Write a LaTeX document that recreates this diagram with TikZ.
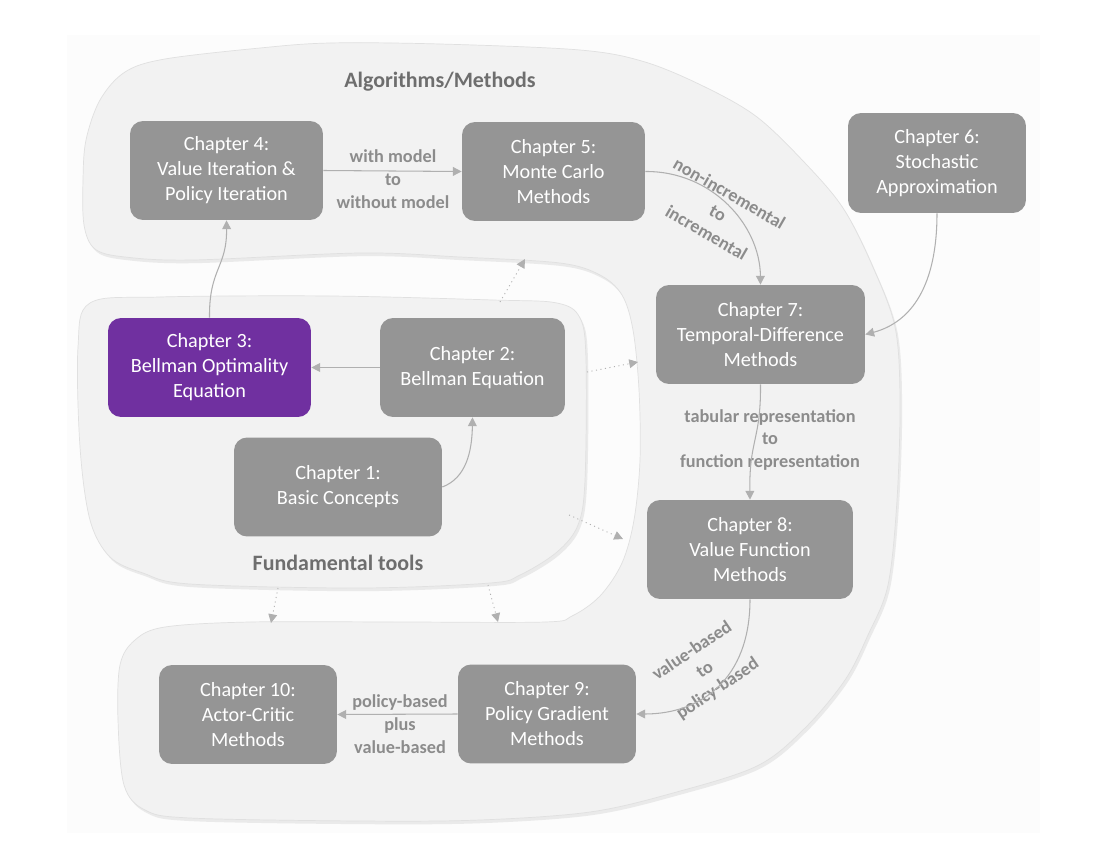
\documentclass[tikz,border=0pt]{standalone}
\usepackage{fontspec}
\setmainfont{Carlito}
\usetikzlibrary{arrows.meta,shadows}
\definecolor{boxgray}{HTML}{959595}
\definecolor{chpurple}{HTML}{7030A0}
\definecolor{blobfill}{HTML}{F2F2F2}
\definecolor{arrowgray}{HTML}{B0B0B0}
\definecolor{labelgray}{HTML}{8C8C8C}
\definecolor{titlegray}{HTML}{6E6E6E}
\definecolor{pagebg}{HTML}{FCFCFC}
\begin{document}
\begin{tikzpicture}[x=0.02cm,y=-0.02cm,
  chapbox/.style={rectangle, rounded corners=0.26cm, fill=boxgray, text=white, align=center,
    inner sep=0pt, minimum height=1.98cm, font=\fontsize{11.5}{14.2}\selectfont},
  purplebox/.style={chapbox, fill=chpurple},
  conn/.style={draw=arrowgray, line width=0.6pt, -{Triangle[length=5pt,width=5pt]}},
  dotconn/.style={conn, dotted, line width=0.5pt},
  elabel/.style={text=labelgray, font=\bfseries\fontsize{10.4}{13}\selectfont, align=center, inner sep=0pt},
  grouplabel/.style={text=titlegray, font=\bfseries\fontsize{12.5}{15}\selectfont, inner sep=0pt},
  blob/.style={fill=blobfill, draw=black!12, line width=0.4pt,
    drop shadow={shadow xshift=1.2pt, shadow yshift=-1.8pt, opacity=0.14}}
]
\useasboundingbox (0,0) rectangle (1096,862);
\fill[pagebg] (67,35) rectangle (1040,833);

% Algorithms/Methods blob
\path[blob] plot[smooth cycle, tension=0.55] coordinates {
  (86,140) (100,100) (125,72) (165,59) (260,48) (330,43) (440,44) (580,50) (645,62)
  (705,87) (757,117) (805,163) (843,208) (872,265) (895,327) (900,400) (897,500)
  (888,585) (868,635) (845,680) (805,728) (757,766) (673,793) (590,812) (480,820)
  (360,821) (190,818) (145,810) (124,785) (118,720) (120,665) (135,640) (165,627)
  (250,622) (400,622) (545,622) (572,616) (600,596) (622,563) (634,520) (640,460)
  (639,390) (633,330) (622,295) (600,275) (560,263) (460,257) (360,253) (193,260)
  (125,257) (95,249) (84,225) (83,180)};

% Fundamental tools blob
\path[blob] plot[smooth cycle, tension=0.55] coordinates {
  (90,303) (160,297) (330,296) (493,300) (557,303) (580,318) (586,360) (585,480)
  (578,525) (557,552) (520,575) (490,583) (360,588) (190,584) (143,573) (110,557)
  (90,520) (80,447) (78,347)};

% group labels
\node[grouplabel] (galg) at (440,82) {Algorithms/Methods};
\node[grouplabel] (gfund) at (338,563) {Fundamental tools};

% chapter nodes
\node[chapbox, minimum width=3.86cm] (c4) at (226.5,170.5) {Chapter 4:\\Value Iteration \&\\Policy Iteration};
\node[chapbox, minimum width=3.66cm] (c5) at (553.5,171.5) {Chapter 5:\\Monte Carlo\\Methods};
\node[chapbox, minimum width=3.56cm, minimum height=2.0cm] (c6) at (937,163) {Chapter 6:\\Stochastic\\Approximation};
\node[chapbox, minimum width=4.18cm] (c7) at (760.5,334.5) {Chapter 7:\\Temporal-Difference\\Methods};
\node[chapbox, minimum width=4.12cm] (c8) at (750,549.5) {Chapter 8:\\Value Function\\Methods};
\node[purplebox, minimum width=4.06cm] (c3) at (209.5,367.5) {Chapter 3:\\Bellman Optimality\\Equation};
\node[chapbox, minimum width=3.70cm] (c2) at (472.5,367.5) {Chapter 2:\\Bellman Equation};
\node[chapbox, minimum width=4.16cm] (c1) at (338,487) {Chapter 1:\\Basic Concepts};
\node[chapbox, minimum width=3.56cm] (c10) at (248,714.5) {Chapter 10:\\Actor-Critic\\Methods};
\node[chapbox, minimum width=3.56cm] (c9) at (547,714) {Chapter 9:\\Policy Gradient\\Methods};

% edge labels
\node[elabel] (l45) at (393,179) {with model\\to\\without model};
\node[elabel, rotate=-30] (l57) at (718,213) {non-incremental\\to\\incremental};
\node[elabel] (l78) at (770,440) {tabular representation\\to\\function representation};
\node[elabel, rotate=34] (l89) at (705,670) {value-based\\to\\policy-based};
\node[elabel] (l910) at (400,724) {policy-based\\plus\\value-based};

% connectors
\draw[conn] (c4.east) -- (c5.west);
\draw[conn] (c5.east) .. controls (712,171) and (760,225) .. (c7.north);
\draw[conn] (c6.south) .. controls (937,285) and (912,322) .. (c7.east);
\draw[conn] (c7.south) .. controls (761,440) and (749,440) .. (c8.north);
\draw[conn] (c8.south) .. controls (750,680) and (700,714) .. (c9.east);
\draw[conn] (c9.west) -- (c10.east);
\draw[conn] (c2.west) -- (c3.east);
\draw[conn] (c1.east) .. controls (466,478) and (472,452) .. (c2.south);
\draw[conn] (c3.north) .. controls (209,268) and (227,268) .. (c4.south);

% dotted blob-to-blob connectors
\coordinate (d1s) at (500,302); \coordinate (d1e) at (525,259);
\coordinate (d2s) at (587,372); \coordinate (d2e) at (638,362);
\coordinate (d3s) at (569,515); \coordinate (d3e) at (623,539);
\coordinate (d4s) at (278,588); \coordinate (d4e) at (271,623);
\coordinate (d5s) at (488,585); \coordinate (d5e) at (498,622);
\draw[dotconn] (d1s) -- (d1e);
\draw[dotconn] (d2s) -- (d2e);
\draw[dotconn] (d3s) -- (d3e);
\draw[dotconn] (d4s) -- (d4e);
\draw[dotconn] (d5s) -- (d5e);
\end{tikzpicture}
\end{document}
